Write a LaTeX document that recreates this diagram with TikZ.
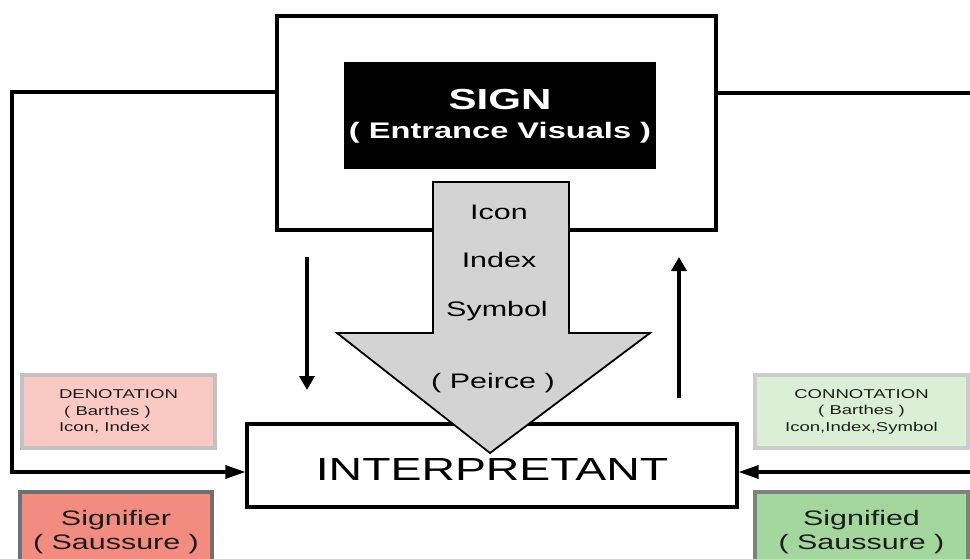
\documentclass[tikz,border=0pt]{standalone}
\usepackage{fontspec}
\setmainfont[FakeStretch=1.45]{Liberation Sans}
\usetikzlibrary{arrows.meta}
\definecolor{arrowgrey}{HTML}{D3D3D3}
\definecolor{denotfill}{HTML}{FAC9C3}
\definecolor{denotline}{HTML}{C2C2C2}
\definecolor{signifierfill}{HTML}{F28C80}
\definecolor{signifierline}{HTML}{6F6F6F}
\definecolor{connotfill}{HTML}{DAEFD5}
\definecolor{connotline}{HTML}{CCCCCC}
\definecolor{signifiedfill}{HTML}{A3D79D}
\definecolor{signifiedline}{HTML}{808080}
\definecolor{tagtext}{HTML}{1C1C1C}

\begin{document}
\begin{tikzpicture}[x=1pt,y=-1pt,
	frame/.style={draw,line width=3.2pt,inner sep=0pt},
	feed/.style={line width=3.2pt,-{Triangle[length=20pt,width=13pt]}},
	flow/.style={line width=4pt,-{Triangle[length=14pt,width=15pt]}},
	tag/.style={draw,line width=3.5pt,inner sep=0pt,text=tagtext},
	peirce/.style={anchor=base,font=\fontsize{21}{24}\selectfont}]
	\clip (0,0) rectangle (970,559);
	\fill[white] (0,0) rectangle (970,559);
	\node[frame,minimum width=439pt,minimum height=214pt] (outer) at (496.5,123) {};
	\node[fill=black,minimum width=312pt,minimum height=107pt] (sign) at (500,115.5) {};
	\node[anchor=base,text=white,font=\bfseries\fontsize{29}{30}\selectfont] (signtitle) at (500,110) {SIGN};
	\node[anchor=base,text=white,font=\bfseries\fontsize{22.5}{26}\selectfont] (signsub) at (500,139) {( Entrance Visuals )};
	\node[frame,minimum width=490pt,minimum height=83pt,text height=29pt,text depth=0pt,font=\fontsize{32}{36}\selectfont] (inter) at (492,465.5) {INTERPRETANT};
	\draw[fill=arrowgrey,line width=1.8pt] (433,182) -- (569,182) -- (569,333) -- (650,333) -- (490,453) -- (337,333) -- (433,333) -- cycle;
	\node[peirce] (icon) at (499,219) {Icon};
	\node[peirce] (index) at (499,267) {Index};
	\node[peirce] (symbol) at (497,316) {Symbol};
	\node[peirce] (peirceref) at (493,388) {( Peirce )};
	\coordinate (ltop) at (12,92);
	\coordinate (lbot) at (12,472);
	\coordinate (rtop) at (990,93);
	\coordinate (rbot) at (990,472);
	\draw[feed] (outer.west |- ltop) -- (ltop) -- (lbot) -- (inter.west |- lbot);
	\draw[feed] (outer.east |- rtop) -- (rtop) -- (rbot) -- (inter.east |- rbot);
	\coordinate (dtop) at (307,257);
	\coordinate (dbot) at (307,390);
	\coordinate (ubot) at (679,398);
	\coordinate (utop) at (679,257);
	\draw[flow] (dtop) -- (dbot);
	\draw[flow] (ubot) -- (utop);
	\node[tag,fill=denotfill,draw=denotline,minimum width=193pt,minimum height=73pt,align=left,font=\fontsize{12.8}{16.5}\selectfont] (denot) at (118.5,411.5)
		{DENOTATION\\\ ( Barthes )\\Icon, Index};
	\node[tag,fill=connotfill,draw=connotline,minimum width=213pt,minimum height=73pt,align=center,font=\fontsize{12.8}{16.5}\selectfont] (connot) at (861.5,411.5)
		{CONNOTATION\\( Barthes )\\Icon,Index,Symbol};
	\node[tag,fill=signifierfill,draw=signifierline,minimum width=192pt,minimum height=80pt,align=center,font=\fontsize{21}{24}\selectfont] (signifier) at (116,532)
		{Signifier\\( Saussure )};
	\node[tag,fill=signifiedfill,draw=signifiedline,minimum width=213pt,minimum height=80pt,align=center,font=\fontsize{21}{24}\selectfont] (signified) at (861.5,532)
		{Signified\\( Saussure )};
\end{tikzpicture}
\end{document}
